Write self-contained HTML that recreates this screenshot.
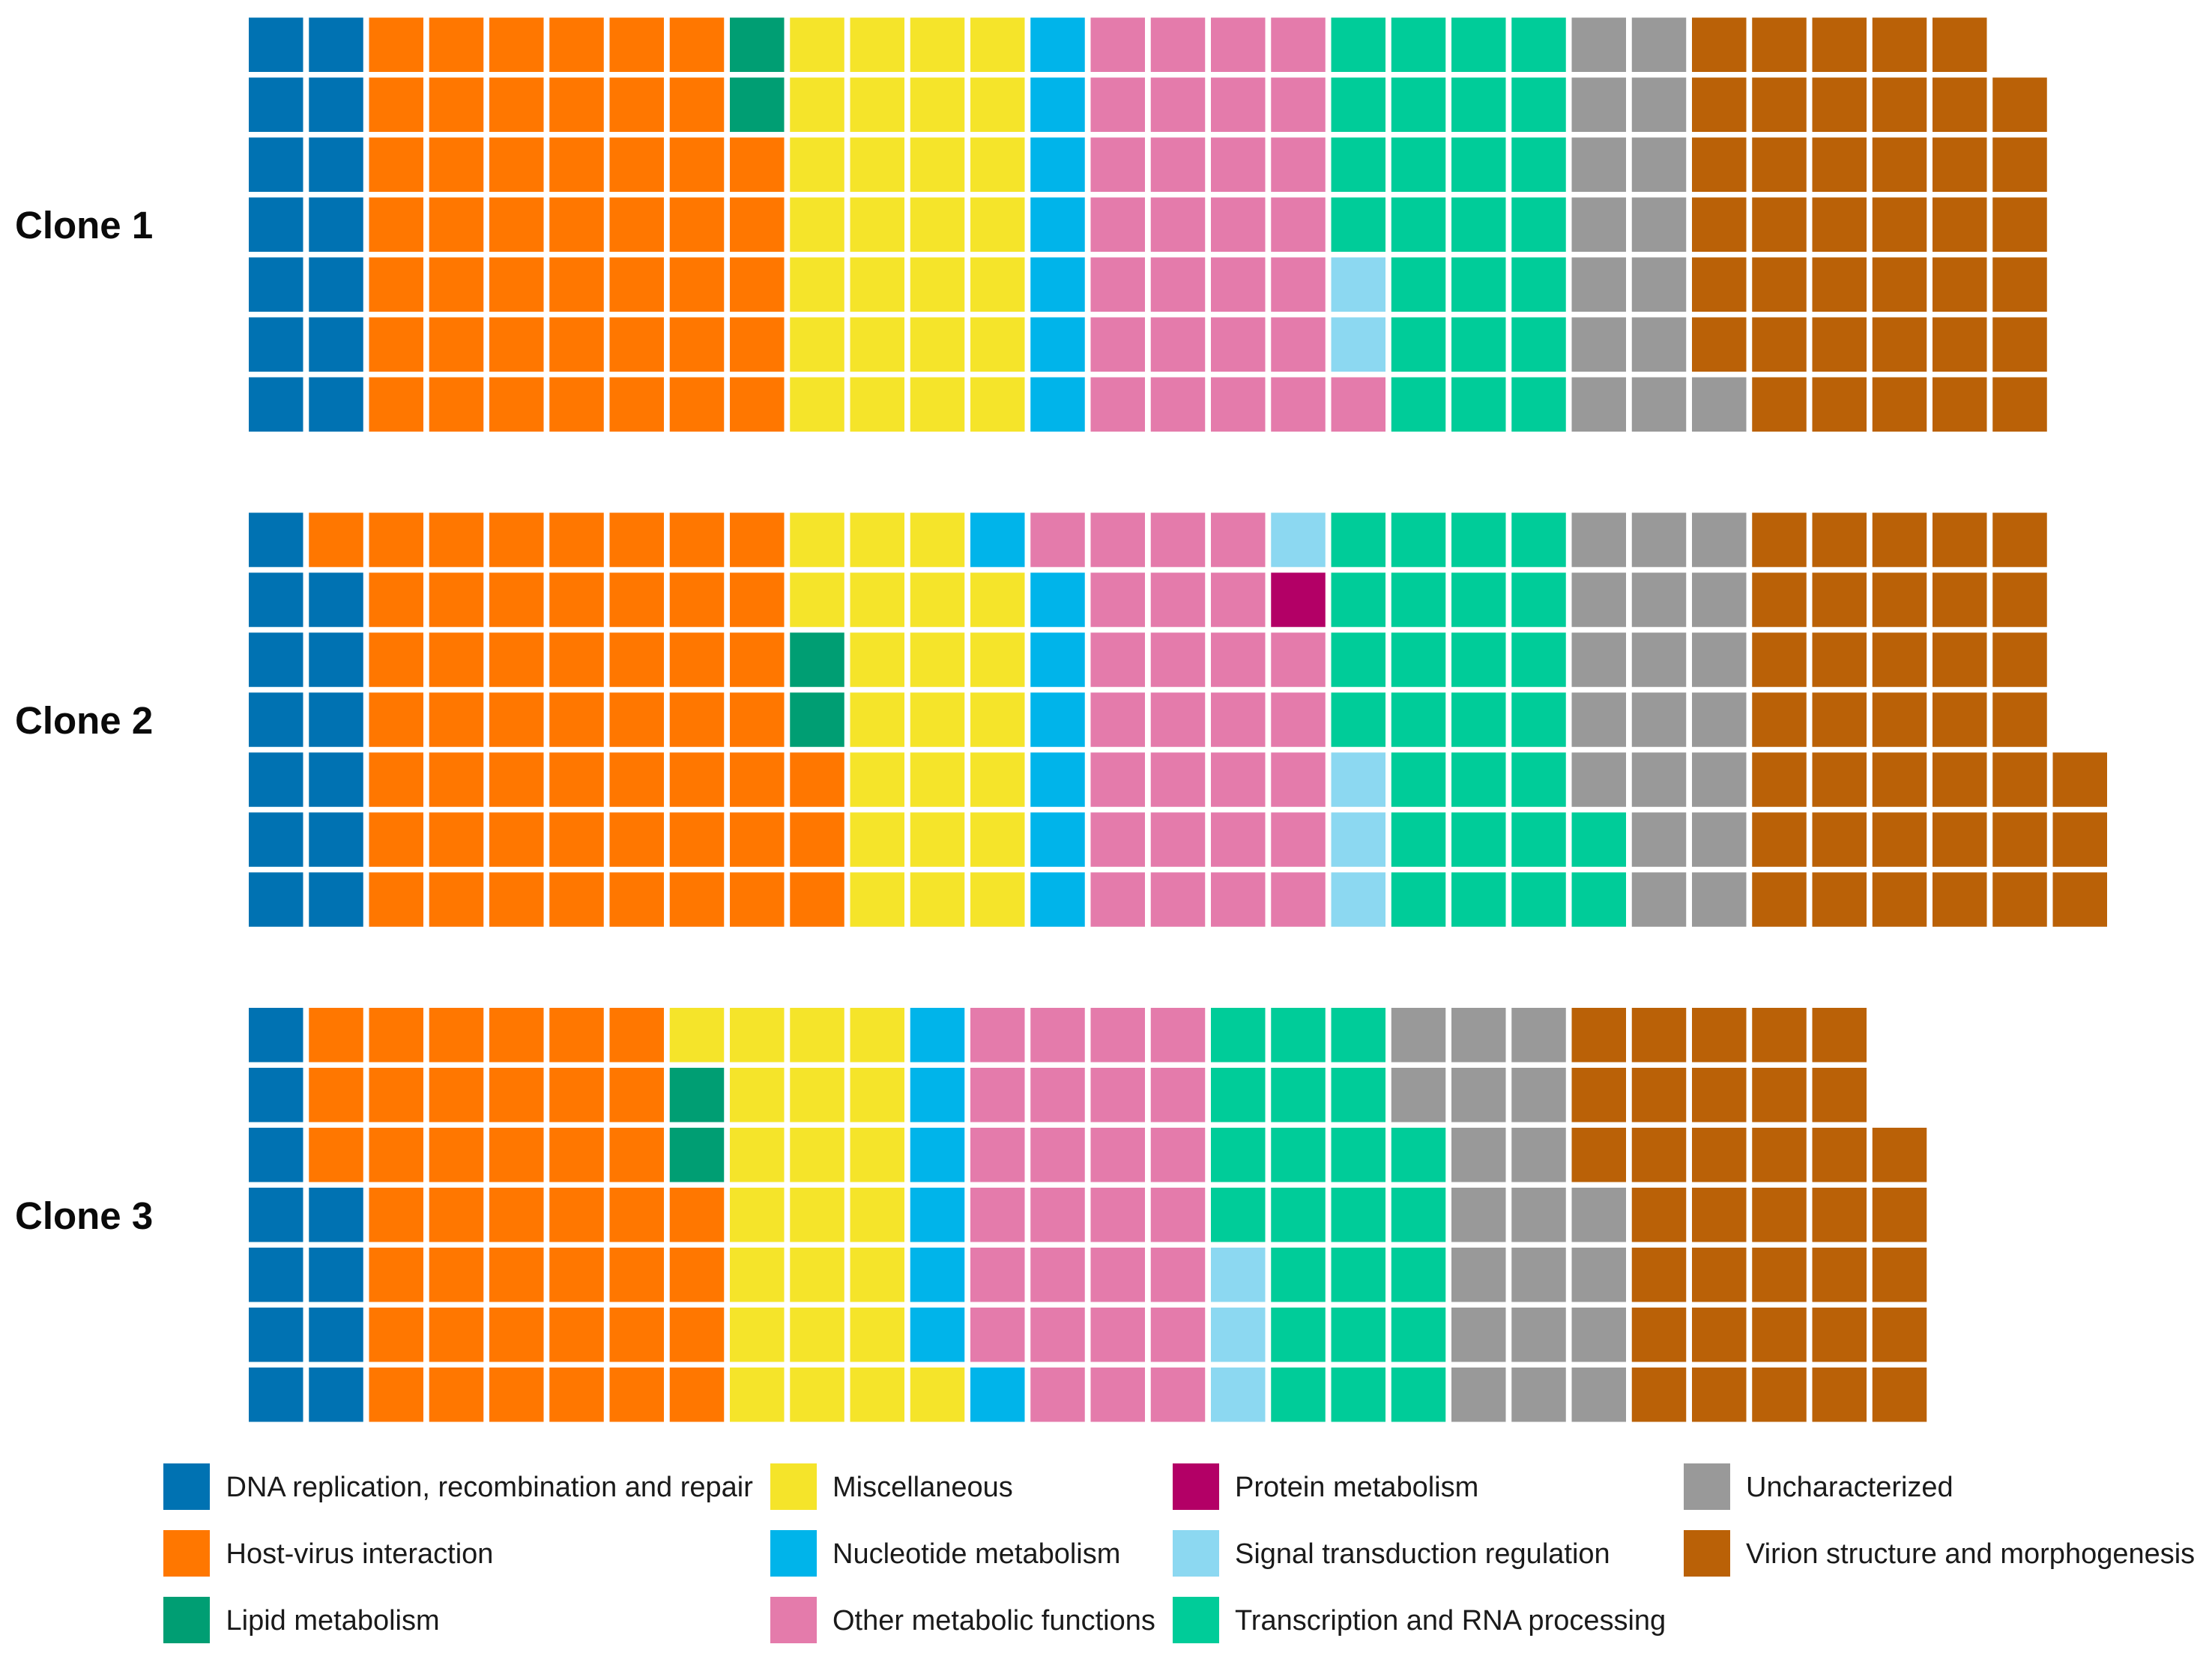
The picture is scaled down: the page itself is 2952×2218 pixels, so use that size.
<!DOCTYPE html>
<html lang="en">
<head>
<meta charset="utf-8">
<title>Functional gene categories per clone</title>
<style>
html,body{margin:0;padding:0;background:#fff;}
svg{display:block;}
.row-label{font-family:"Liberation Sans",sans-serif;font-weight:700;font-size:51px;fill:#0a0a0a;}
.legend-label{font-family:"Liberation Sans",sans-serif;font-size:38px;fill:#1a1a1a;}
.cat-0{fill:#0072B2;}
.cat-1{fill:#FF7700;}
.cat-2{fill:#009E73;}
.cat-3{fill:#F5E42A;}
.cat-4{fill:#00B4EA;}
.cat-5{fill:#E47BAB;}
.cat-6{fill:#B30066;}
.cat-7{fill:#8CD8F1;}
.cat-8{fill:#00CC99;}
.cat-9{fill:#999999;}
.cat-10{fill:#BA6107;}
</style>
</head>
<body>
<svg id="chart" xmlns="http://www.w3.org/2000/svg" width="2952" height="2218" viewBox="0 0 2952 2218">
  <rect x="0" y="0" width="2952" height="2218" fill="#ffffff"/>
  <g id="cells"></g>

  <text class="row-label" x="20" y="318">Clone 1</text>
  <text class="row-label" x="20" y="979">Clone 2</text>
  <text class="row-label" x="20" y="1640">Clone 3</text>

  <g>
    <rect class="cat-0" x="218" y="1953" width="62" height="62"/>
    <text class="legend-label" x="301.5" y="1997">DNA replication, recombination and repair</text>
    <rect class="cat-1" x="218" y="2042" width="62" height="62"/>
    <text class="legend-label" x="301.5" y="2086">Host-virus interaction</text>
    <rect class="cat-2" x="218" y="2131" width="62" height="62"/>
    <text class="legend-label" x="301.5" y="2175">Lipid metabolism</text>

    <rect class="cat-3" x="1028" y="1953" width="62" height="62"/>
    <text class="legend-label" x="1111" y="1997">Miscellaneous</text>
    <rect class="cat-4" x="1028" y="2042" width="62" height="62"/>
    <text class="legend-label" x="1111" y="2086">Nucleotide metabolism</text>
    <rect class="cat-5" x="1028" y="2131" width="62" height="62"/>
    <text class="legend-label" x="1111" y="2175">Other metabolic functions</text>

    <rect class="cat-6" x="1565" y="1953" width="62" height="62"/>
    <text class="legend-label" x="1648" y="1997">Protein metabolism</text>
    <rect class="cat-7" x="1565" y="2042" width="62" height="62"/>
    <text class="legend-label" x="1648" y="2086">Signal transduction regulation</text>
    <rect class="cat-8" x="1565" y="2131" width="62" height="62"/>
    <text class="legend-label" x="1648" y="2175">Transcription and RNA processing</text>

    <rect class="cat-9" x="2247" y="1953" width="62" height="62"/>
    <text class="legend-label" x="2330" y="1997">Uncharacterized</text>
    <rect class="cat-10" x="2247" y="2042" width="62" height="62"/>
    <text class="legend-label" x="2330" y="2086">Virion structure and morphogenesis</text>
  </g>
</svg>
<script>
const categories = ["dna-replication", "host-virus", "lipid", "miscellaneous", "nucleotide", "other-metabolic", "protein", "signal", "transcription", "uncharacterized", "virion"];
const cloneNames = ["clone-1", "clone-2", "clone-3"];
const clone1Counts = [14, 47, 2, 28, 7, 29, 0, 2, 25, 15, 40];
const clone2Counts = [13, 53, 2, 22, 7, 27, 1, 4, 27, 19, 38];
const clone3Counts = [11, 42, 2, 23, 7, 27, 0, 3, 23, 20, 36];

const ROWS = 7;
const CELL_W = 72.5;
const CELL_H = 72.5;
const PITCH_X = 80.25;
const PITCH_Y = 80;
const LEFT = 332;
const TOP = 23.5;
const PANEL_STEP = 660.75;

function xAxis(col) { return LEFT + col * PITCH_X; }
function yAxis(panel, rowFromBottom) { return TOP + panel * PANEL_STEP + (ROWS - 1 - rowFromBottom) * PITCH_Y; }

const root = document.getElementById('cells');
const NS = 'http://www.w3.org/2000/svg';

function drawClone(panel, counts) {
  let n = 0;
  counts.forEach(function (count, cat) {
    for (let k = 0; k < count; k++) {
      const col = Math.floor(n / ROWS);
      const rowFromBottom = n % ROWS;
      const el = document.createElementNS(NS, 'rect');
      el.setAttribute('x', xAxis(col));
      el.setAttribute('y', yAxis(panel, rowFromBottom));
      el.setAttribute('width', CELL_W);
      el.setAttribute('height', CELL_H);
      el.setAttribute('class', 'cat-' + cat);
      
      
      root.appendChild(el);
      n++;
    }
  });
}

drawClone(0, clone1Counts);
drawClone(1, clone2Counts);
drawClone(2, clone3Counts);
</script>
</body>
</html>
